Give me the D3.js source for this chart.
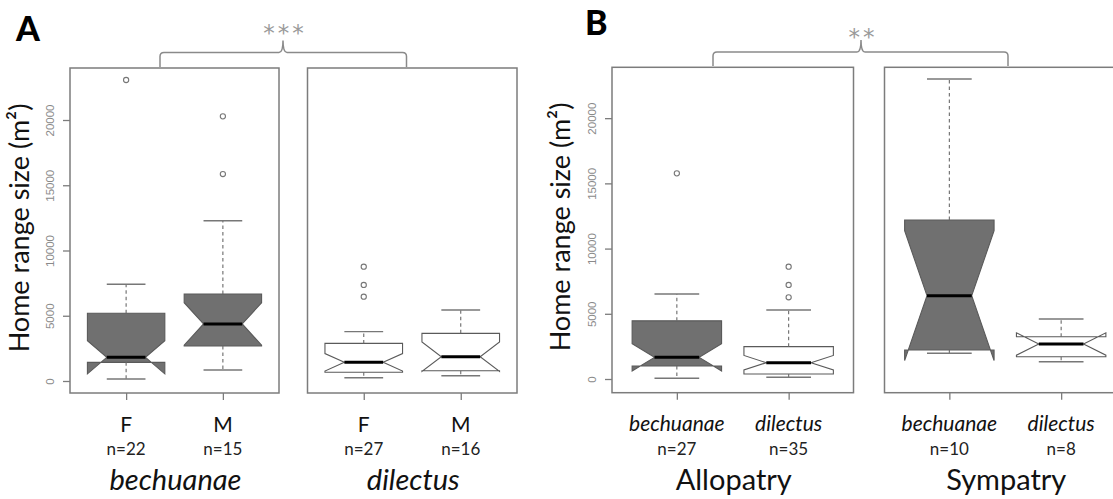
<!DOCTYPE html>
<html>
<head>
<meta charset="utf-8">
<script src="https://cdn.jsdelivr.net/npm/d3@7"></script>
<style>
  html, body { margin: 0; padding: 0; background: #fff; }
  svg { display: block; }
</style>
</head>
<body>
<svg id="chart" width="1113" height="499"></svg>
<script>
// ---------------- DATA ----------------
// Panel A: sex within species
const panelAGroups = ["bechuanae", "dilectus"];
const panelACats = ["F", "M"];
const panelAN = [22, 15, 27, 16];
const panelAWhiskLo = [150, 840, 253, 406];
const panelAQ1 = [1430, 2680, 667, 790];
const panelAMedian = [1815, 4370, 1430, 1860];
const panelAQ3 = [5190, 6670, 2880, 3650];
const panelAWhiskHi = [7410, 12280, 3780, 5440];
const panelAOutliers = [[23065], [20280, 15860], [8760, 7360, 6460], []];
const panelASignif = "***";

// Panel B: species within allopatry / sympatry
const panelBGroups = ["Allopatry", "Sympatry"];
const panelBCats = ["bechuanae", "dilectus"];
const panelBN = [27, 35, 10, 8];
const panelBWhiskLo = [60, 130, 1970, 1327];
const panelBQ1 = [1000, 383, 2224, 1710];
const panelBMedian = [1660, 1250, 6390, 2684];
const panelBQ3 = [4460, 2480, 12190, 3245];
const panelBWhiskHi = [6518, 5290, 23006, 4600];
const panelBOutliers = [[15770], [8610, 7210, 6265], [], []];
const panelBSignif = "**";

// fill per box: bechuanae grey, dilectus white
const panelAFill = ["bechuanae", "bechuanae", "dilectus", "dilectus"];
const panelBFill = ["bechuanae", "dilectus", "bechuanae", "dilectus"];

const yTicks = [0, 5000, 10000, 15000, 20000];

// ---------------- STYLE / LAYOUT ----------------
const fillColor = { bechuanae: "#707070", dilectus: "#ffffff" };
const frameColor = "#7c7c7c";
const boxLine = "#5a5a5a";
const whiskColor = "#6a6a6a";
const tickTextColor = "#8a8a8a";
const labelFont = "Lato, 'Open Sans', sans-serif";

const svg = d3.select("#chart");

function buildRows(groups, n, lo, q1, med, q3, hi, out, fills) {
  return n.map((v, i) => ({
    gi: Math.floor(i / 2), ci: i % 2, n: v,
    lo: lo[i], q1: q1[i], med: med[i], q3: q3[i], hi: hi[i],
    out: out[i], fill: fills[i]
  }));
}

function drawPanel(cfg) {
  const g = svg.append("g");
  const y = d3.scaleLinear().domain(cfg.yDomain).range([cfg.yBot, cfg.yTop]);

  // frames
  cfg.frames.forEach((fr, gi) => {
    const x = d3.scaleLinear().domain([0.42, 2.58]).range([fr[0], fr[1]]);
    fr.x = x;
    g.append("rect")
      .attr("x", fr[0]).attr("y", cfg.yTop)
      .attr("width", fr[1] - fr[0]).attr("height", cfg.yBot - cfg.yTop)
      .attr("fill", "none").attr("stroke", frameColor).attr("stroke-width", 1.5);

    // x axis ticks
    const ax = g.append("g").attr("transform", `translate(0,${cfg.yBot})`)
      .call(d3.axisBottom(x).tickValues([1, 2]).tickSize(7).tickFormat(""));
    ax.select(".domain").remove();
    ax.selectAll("line").attr("stroke", frameColor).attr("stroke-width", 1.3);

    // category labels and n labels
    cfg.cats.forEach((c, ci) => {
      const row = cfg.rows[gi * 2 + ci];
      g.append("text")
        .attr("x", x(ci + 1)).attr("y", cfg.catY)
        .attr("text-anchor", "middle")
        .attr("font-family", labelFont)
        .attr("font-size", cfg.catSize)
        .attr("font-style", cfg.catItalic ? "italic" : "normal")
        .attr("fill", "#111")
        .text(c);
      g.append("text")
        .attr("x", x(ci + 1)).attr("y", cfg.nY)
        .attr("text-anchor", "middle")
        .attr("font-family", labelFont)
        .attr("font-size", 17)
        .attr("fill", "#222")
        .text("n=" + row.n);
    });

    // group label
    g.append("text")
      .attr("x", (fr[0] + fr[1]) / 2 + 1).attr("y", cfg.groupY)
      .attr("text-anchor", "middle")
      .attr("font-family", labelFont)
      .attr("font-size", 29)
      .attr("font-style", cfg.groupItalic ? "italic" : "normal")
      .attr("fill", "#111")
      .text(cfg.groups[gi]);
  });

  // y axis on the first frame
  const ya = g.append("g").attr("transform", `translate(${cfg.frames[0][0]},0)`)
    .call(d3.axisLeft(y).tickValues(yTicks).tickSize(7).tickFormat(d3.format("d")));
  ya.select(".domain").remove();
  ya.selectAll("line").attr("stroke", frameColor).attr("stroke-width", 1.3);
  ya.selectAll("text")
    .attr("x", null).attr("dy", null)
    .attr("transform", "translate(-16,0) rotate(-90)")
    .attr("text-anchor", "middle")
    .attr("font-family", "'Liberation Sans', Arial, sans-serif")
    .attr("font-size", 11.5)
    .attr("fill", tickTextColor);

  // y axis title
  g.append("text")
    .attr("transform", `translate(${cfg.titleX},${cfg.titleY}) rotate(-90)`)
    .attr("text-anchor", "middle")
    .attr("font-family", labelFont)
    .attr("font-size", 27)
    .attr("fill", "#111")
    .text("Home range size (m²)");

  // boxes
  cfg.rows.forEach(r => {
    const x = cfg.frames[r.gi].x;
    const cx = x(r.ci + 1);
    const w = x(1.4) - x(1); // half box width (boxwex 0.8)
    const nf = 0.5;
    const half = 1.58 * (r.q3 - r.q1) / Math.sqrt(r.n);
    const nl = r.med - half, nh = r.med + half;
    const pts = [
      [cx - w, y(r.q1)], [cx + w, y(r.q1)], [cx + w, y(nl)], [cx + w * nf, y(r.med)],
      [cx + w, y(nh)], [cx + w, y(r.q3)], [cx - w, y(r.q3)], [cx - w, y(nh)],
      [cx - w * nf, y(r.med)], [cx - w, y(nl)]
    ];
    g.append("path")
      .attr("d", d3.line()(pts) + "Z")
      .attr("fill", fillColor[r.fill])
      .attr("stroke", boxLine).attr("stroke-width", 1.1)
      .attr("stroke-linejoin", "miter");
    // whiskers
    [[r.q3, r.hi], [r.q1, r.lo]].forEach(([a, b]) => {
      g.append("line")
        .attr("x1", cx).attr("x2", cx).attr("y1", y(a)).attr("y2", y(b))
        .attr("stroke", whiskColor).attr("stroke-width", 1.1)
        .attr("stroke-dasharray", "3.5,3");
    });
    // staples
    [r.hi, r.lo].forEach(v => {
      g.append("line")
        .attr("x1", cx - w * 0.5).attr("x2", cx + w * 0.5)
        .attr("y1", y(v)).attr("y2", y(v))
        .attr("stroke", "#777").attr("stroke-width", 1.4);
    });
    // median
    g.append("line")
      .attr("x1", cx - w * nf).attr("x2", cx + w * nf)
      .attr("y1", y(r.med)).attr("y2", y(r.med))
      .attr("stroke", "#000").attr("stroke-width", 3);
    // outliers
    r.out.forEach(v => {
      g.append("circle")
        .attr("cx", cx).attr("cy", y(v)).attr("r", 2.6)
        .attr("fill", "none").attr("stroke", "#777").attr("stroke-width", 1.1);
    });
  });

  // significance bracket
  const b = cfg.bracket;
  const p = d3.path();
  p.moveTo(b.xL, b.yEnd);
  p.lineTo(b.xL, b.yH + 4);
  p.quadraticCurveTo(b.xL, b.yH, b.xL + 4, b.yH);
  p.lineTo(b.xC - 4, b.yH);
  p.quadraticCurveTo(b.xC, b.yH, b.xC, b.yPeak);
  p.quadraticCurveTo(b.xC, b.yH, b.xC + 4, b.yH);
  p.lineTo(b.xR - 4, b.yH);
  p.quadraticCurveTo(b.xR, b.yH, b.xR, b.yH + 4);
  p.lineTo(b.xR, b.yEnd);
  g.append("path").attr("d", p.toString())
    .attr("fill", "none").attr("stroke", "#8a8a8a").attr("stroke-width", 1.5);
  g.append("text")
    .attr("x", b.xC + 2).attr("y", b.starY)
    .attr("text-anchor", "middle")
    .attr("font-family", "'DejaVu Sans', sans-serif")
    .attr("font-size", 23)
    .attr("letter-spacing", 3)
    .attr("fill", "#9a9a9a")
    .text(cfg.signif);

  // panel letter
  g.append("text")
    .attr("x", cfg.letterX).attr("y", cfg.letterY)
    .attr("font-family", labelFont)
    .attr("font-weight", 900)
    .attr("font-size", 34)
    .attr("fill", "#000")
    .text(cfg.letter);
}

drawPanel({
  letter: "A", letterX: 16, letterY: 41,
  groups: panelAGroups, cats: panelACats, groupItalic: true, catItalic: false, catSize: 21,
  rows: buildRows(panelAGroups, panelAN, panelAWhiskLo, panelAQ1, panelAMedian, panelAQ3, panelAWhiskHi, panelAOutliers, panelAFill),
  frames: [[70, 279], [307.5, 517]],
  yTop: 68, yBot: 393, yDomain: [-920, 23985],
  catY: 432, nY: 455, groupY: 490,
  titleX: 29, titleY: 228,
  bracket: { xL: 160, xC: 283, xR: 406.5, yH: 52.5, yPeak: 40.5, yEnd: 67, starY: 41 },
  signif: panelASignif
});

drawPanel({
  letter: "B", letterX: 585, letterY: 35,
  groups: panelBGroups, cats: panelBCats, groupItalic: false, catItalic: true, catSize: 21,
  rows: buildRows(panelBGroups, panelBN, panelBWhiskLo, panelBQ1, panelBMedian, panelBQ3, panelBWhiskHi, panelBOutliers, panelBFill),
  frames: [[612, 853.5], [884.5, 1126]],
  yTop: 67.3, yBot: 392.7, yDomain: [-1050, 23900],
  catY: 431, nY: 455, groupY: 490,
  titleX: 570, titleY: 227,
  bracket: { xL: 713, xC: 861, xR: 1008, yH: 52, yPeak: 40, yEnd: 66, starY: 45 },
  signif: panelBSignif
});
</script>
</body>
</html>
